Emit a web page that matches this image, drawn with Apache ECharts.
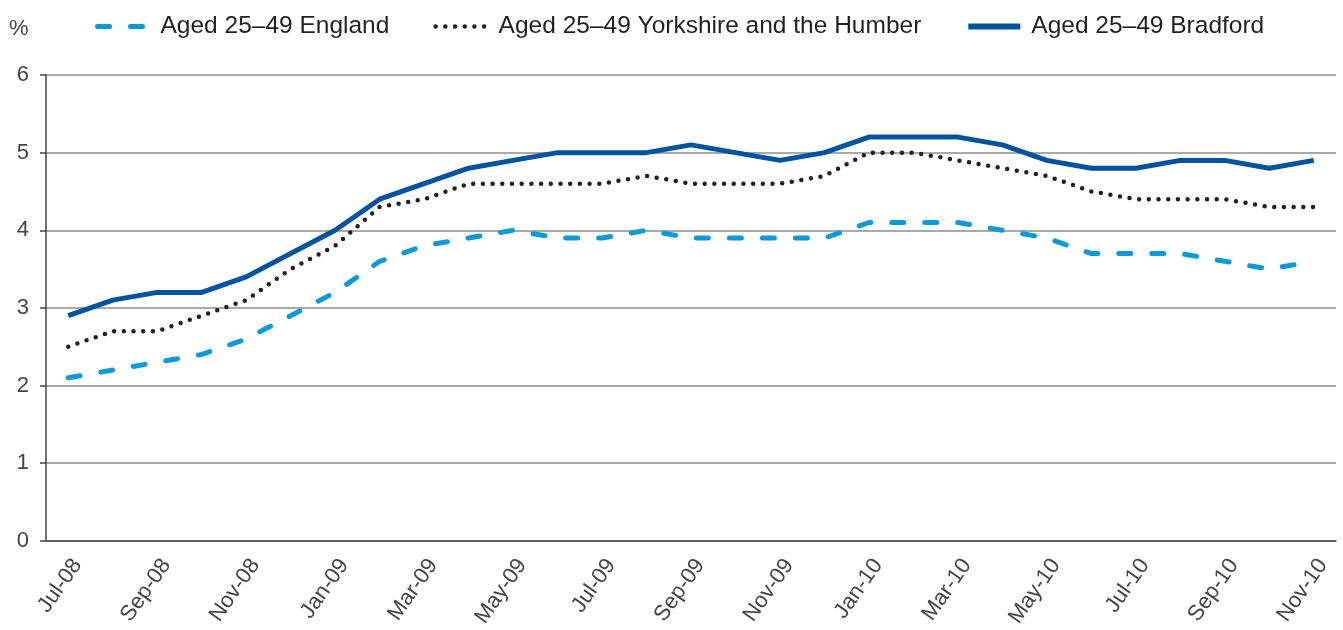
<!DOCTYPE html>
<html>
<head>
<meta charset="utf-8">
<script src="https://cdn.jsdelivr.net/npm/echarts@6/dist/echarts.min.js"></script>
<style>
html,body{margin:0;padding:0;background:#fff;}
#chart{width:1343px;height:630px;}
</style>
</head>
<body>
<div id="chart"></div>
<script>
var months = ['Jul-08','Aug-08','Sep-08','Oct-08','Nov-08','Dec-08',
  'Jan-09','Feb-09','Mar-09','Apr-09','May-09','Jun-09','Jul-09','Aug-09','Sep-09','Oct-09','Nov-09','Dec-09',
  'Jan-10','Feb-10','Mar-10','Apr-10','May-10','Jun-10','Jul-10','Aug-10','Sep-10','Oct-10','Nov-10'];
var england = [2.1,2.2,2.3,2.4,2.6,2.9, 3.2,3.6,3.8,3.9,4.0,3.9,3.9,4.0,3.9,3.9,3.9,3.9, 4.1,4.1,4.1,4.0,3.9,3.7,3.7,3.7,3.6,3.5,3.6];
var yorkshire = [2.5,2.7,2.7,2.9,3.1,3.5, 3.8,4.3,4.4,4.6,4.6,4.6,4.6,4.7,4.6,4.6,4.6,4.7, 5.0,5.0,4.9,4.8,4.7,4.5,4.4,4.4,4.4,4.3,4.3];
var bradford = [2.9,3.1,3.2,3.2,3.4,3.7, 4.0,4.4,4.6,4.8,4.9,5.0,5.0,5.0,5.1,5.0,4.9,5.0, 5.2,5.2,5.2,5.1,4.9,4.8,4.8,4.9,4.9,4.8,4.9];
var seriesNames = ['Aged 25\u201349 England','Aged 25\u201349 Yorkshire and the Humber','Aged 25\u201349 Bradford'];

var font = 'Liberation Sans, Arial, sans-serif';
var chart = echarts.init(document.getElementById('chart'));
chart.setOption({
  animation: false,
  backgroundColor: '#fff',
  graphic: [{type:'text', left: 9, top: 18, style:{text:'%', fontSize: 22, fill:'#444', fontFamily: font}}],
  legend: {
    top: 9, left: 90, itemGap: 44, itemWidth: 52, itemHeight: 12,
    itemStyle: {opacity: 0},
    textStyle: {fontSize: 24.5, color: '#231f20', fontFamily: font, padding: [0,0,0,6]},
    data: [
      {name: seriesNames[0], lineStyle: {width: 5}},
      {name: seriesNames[1], lineStyle: {width: 4.5}},
      {name: seriesNames[2], lineStyle: {width: 6}}
    ]
  },
  grid: {left: 46, right: 7, top: 75, bottom: 84, containLabel: false},
  xAxis: {
    type: 'category', data: months, boundaryGap: true,
    axisLine: {lineStyle: {color: '#444', width: 1.5}},
    axisTick: {interval: 1, length: 6, lineStyle: {color: '#444', width: 1.5}},
    axisLabel: {interval: 1, rotate: 55, margin: 14, fontSize: 22, color: '#444', fontFamily: font, verticalAlign: 'top'}
  },
  yAxis: {
    type: 'value', min: 0, max: 6, interval: 1,
    axisLine: {show: true, lineStyle: {color: '#444', width: 1.5}},
    axisTick: {show: true, length: 6, lineStyle: {color: '#444', width: 1.5}},
    axisLabel: {margin: 17, fontSize: 22, color: '#444', fontFamily: font},
    splitLine: {lineStyle: {color: '#8c8c8c', width: 1.5}}
  },
  series: [
    {name: seriesNames[0], type: 'line', data: england, symbol: 'none',
     itemStyle: {color: '#0a9ad9'},
     lineStyle: {color: '#0a9ad9', width: 5, type: [12, 21], cap: 'round'}},
    {name: seriesNames[1], type: 'line', data: yorkshire, symbol: 'none',
     itemStyle: {color: '#231f20'},
     lineStyle: {color: '#231f20', width: 4.5, type: [0, 9.7], cap: 'round'}},
    {name: seriesNames[2], type: 'line', data: bradford, symbol: 'none',
     itemStyle: {color: '#00549f'},
     lineStyle: {color: '#00549f', width: 5}}
  ]
});
</script>
</body>
</html>
